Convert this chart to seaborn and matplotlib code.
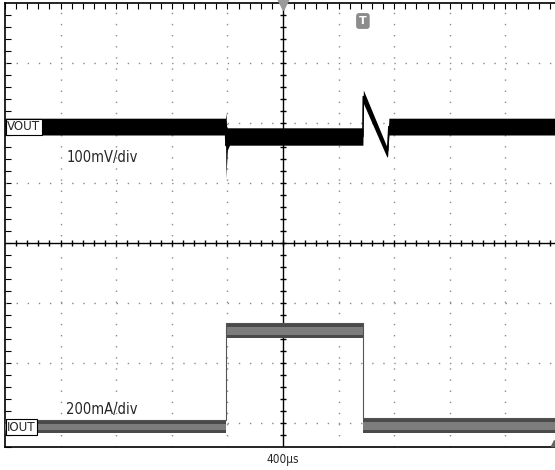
import numpy as np
import matplotlib
matplotlib.use("Agg")
import matplotlib.pyplot as plt
import seaborn as sns
import pandas as pd

# ---- data (time in µs, 400 µs/div, centre = 0; amplitude in screen divisions) ----
vout_t     = [-2000, -414, -410, -406, -400, -385, 575, 578, 748, 753, 762, 1960]
vout_upper = [2.08, 2.08, 2.17, 1.95, 1.92, 1.92, 1.92, 2.55, 1.60, 1.65, 2.08, 2.08]
vout_lower = [1.80, 1.80, 1.08, 1.30, 1.55, 1.63, 1.63, 2.33, 1.43, 1.45, 1.80, 1.80]

iout_t     = [-2000, -410, -410, 575, 575, 1960]
iout_upper = [-2.95, -2.95, -1.33, -1.33, -2.92, -2.92]
iout_lower = [-3.17, -3.17, -1.58, -1.58, -3.17, -3.17]

vout_label, vout_scale = "VOUT", "100mV/div"
iout_label, iout_scale = "IOUT", "200mA/div"
timebase = "400\u00b5s"

sns.set_style("white")
plt.rcParams['font.family'] = ['DejaVu Sans']

W, H = 555, 470
fig = plt.figure(figsize=(W / 100, H / 100), dpi=100)
ax = fig.add_axes([5 / W, (H - 447) / H, 550 / W, 444 / H])
ax.set_xlim(-2000, 1957)
ax.set_ylim(-3.4, 4.0)

# graticule
for gx in [-1600, -1200, -800, -400, 400, 800, 1200, 1600]:
    ax.axvline(gx, color="#8a8a8a", lw=1, ls=(0, (1, 7)), zorder=1)
for gy in [-3, -2, -1, 1, 2, 3]:
    ax.axhline(gy, color="#8a8a8a", lw=1, ls=(0, (1, 7)), zorder=1)
ax.axvline(0, color="black", lw=1, zorder=1)
ax.axhline(0, color="black", lw=1, zorder=1)
mx = np.arange(-1920, 1960, 80)
ax.plot(mx, np.zeros_like(mx), ls="none", marker="|", ms=4.5, mew=1, color="black", zorder=1)
my = np.arange(-3.2, 4.0, 0.2)
ax.plot(np.zeros_like(my), my, ls="none", marker="_", ms=4.5, mew=1, color="black", zorder=1)

# VOUT trace (noisy band envelope)
vdf = pd.DataFrame({"t": vout_t, "up": vout_upper, "lo": vout_lower})
ax.fill_between(vdf.t, vdf.lo, vdf.up, color="black", lw=0, zorder=3)
sns.lineplot(x=vdf.t, y=(vdf.up + vdf.lo) / 2, estimator=None, sort=False,
             color="black", lw=1.2, ax=ax, zorder=3)

# IOUT trace
idf = pd.DataFrame({"t": iout_t, "up": iout_upper, "lo": iout_lower})
ax.fill_between(idf.t, idf.lo, idf.up, color="#4a4a4a", lw=0, zorder=3)
ax.fill_between(idf.t, idf.lo + 0.05, idf.up - 0.07, color="#7d7d7d", lw=0, zorder=3)
sns.lineplot(x=idf.t, y=idf.up, estimator=None, sort=False,
             color="#555555", lw=0.8, ax=ax, zorder=3)

# frame
ax.spines["right"].set_visible(False)
for s in ["left", "top", "bottom"]:
    ax.spines[s].set_color("black")
    ax.spines[s].set_linewidth(1.2)
ax.set_xticks(np.arange(-2000, 1960, 80))
ax.set_yticks(np.arange(-3.4, 4.0, 0.2))
ax.set_xticklabels([])
ax.set_yticklabels([])
ax.tick_params(axis="x", bottom=False, top=True, direction="in", length=4,
               labelbottom=False, labeltop=False, color="black")
ax.tick_params(axis="y", left=True, right=False, direction="in", length=4,
               labelleft=False, color="black")
ax.set_xlabel("")
ax.set_ylabel("")

# labels
cond = dict(fontstretch="condensed")
box = dict(boxstyle="square,pad=0.12", fc="white", ec="black", lw=0.8)
ax.text(-1985, 1.94, vout_label, fontsize=9.5, ha="left", va="center", bbox=box, zorder=5, **cond)
ax.text(-1985, -3.07, iout_label, fontsize=9.5, ha="left", va="center", bbox=box, zorder=5, **cond)
ax.text(-1560, 1.42, vout_scale, fontsize=10.5, ha="left", va="center", zorder=5, **cond)
ax.text(-1560, -2.78, iout_scale, fontsize=10.5, ha="left", va="center", zorder=5, **cond)
fig.text(283 / W, 1 - 459 / H, timebase, fontsize=8.5, ha="center", va="center", **cond)

# markers: trigger position and trigger level
ax.plot([0], [3.98], marker="v", ms=8, color="#9a9a9a", clip_on=False, zorder=6)
ax.text(575, 3.7, "T", fontsize=8, color="white", ha="center", va="center", weight="bold",
        bbox=dict(boxstyle="round,pad=0.2", fc="#8c8c8c", ec="#8c8c8c"), zorder=6)
ax.plot([1950], [-3.33], marker="^", ms=5, color="#666666", clip_on=False, zorder=6)

fig.savefig("out.png", dpi=100)
